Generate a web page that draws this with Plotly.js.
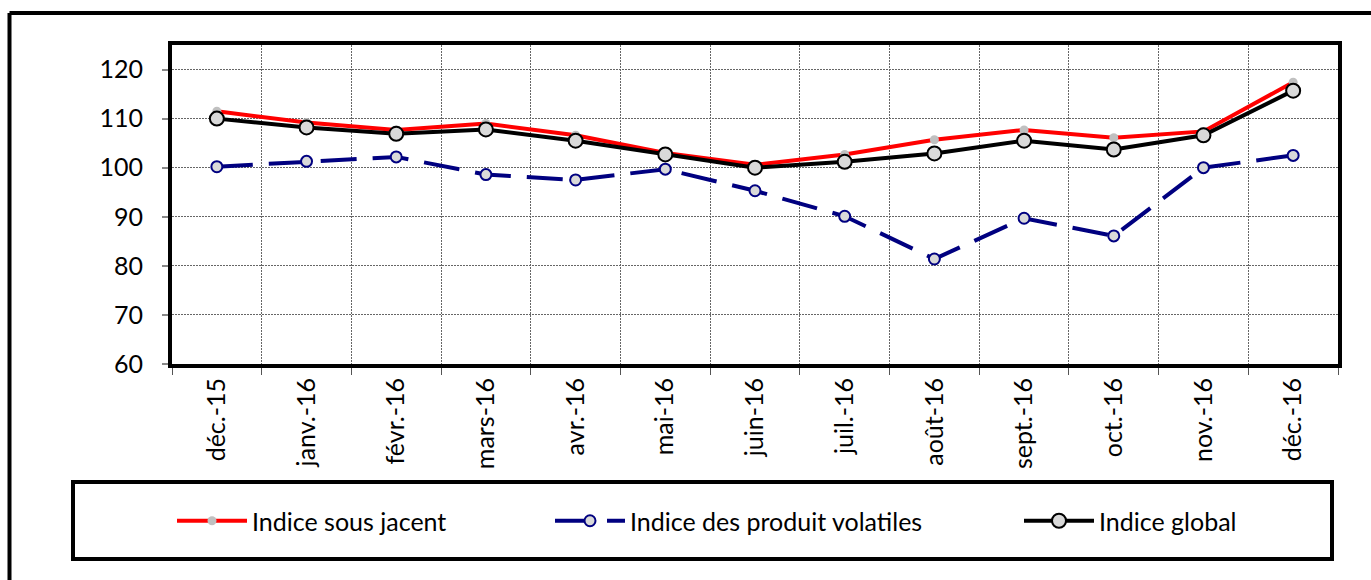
<!DOCTYPE html>
<html>
<head>
<meta charset="utf-8">
<script src="https://cdn.plot.ly/plotly-3.0.1.min.js"></script>
<style>
  html, body { margin: 0; padding: 0; background: #fff; }
  #chart { width: 1371px; height: 580px; }
</style>
</head>
<body>
<div id="chart"></div>
<script>
const months = ["déc.-15", "janv.-16", "févr.-16", "mars-16", "avr.-16", "mai-16", "juin-16",
                "juil.-16", "août-16", "sept.-16", "oct.-16", "nov.-16", "déc.-16"];
const sousJacent = [111.5, 109.2, 107.7, 109.0, 106.6, 103.0, 100.6, 102.7, 105.7, 107.7, 106.1, 107.4, 117.4];
const volatiles  = [100.2, 101.3, 102.2, 98.6, 97.5, 99.7, 95.3, 90.1, 81.4, 89.7, 86.1, 100.0, 102.5];
const global     = [110.0, 108.2, 106.9, 107.8, 105.5, 102.7, 100.0, 101.2, 102.9, 105.5, 103.7, 106.6, 115.7];
const yTicks = [60, 70, 80, 90, 100, 110, 120];

const FONT = "Lato, 'Liberation Sans', sans-serif";
const FS = 25;

// pixel helpers for paper coordinates
const W = 1371, H = 580;
const L = 172, R = 33, T = 45, B = 216;
const pw = W - L - R, ph = H - T - B;
const px = x => (x - L) / pw;
const py = y => (H - B - y) / ph;

const traces = [
  {
    x: months, y: sousJacent, name: "Indice sous jacent", type: "scatter", mode: "lines+markers",
    line: { color: "#ff0000", width: 4 },
    marker: { symbol: "circle", size: 9, color: "#c0c0c0", line: { width: 0 } },
    legend: "legend"
  },
  {
    x: months, y: volatiles, name: "Indice des produit volatiles", type: "scatter", mode: "lines+markers",
    line: { color: "#000080", width: 4, dash: "36px,16px" },
    marker: { symbol: "circle", size: 11, color: "#d9d9d9", line: { width: 2, color: "#000080" } },
    legend: "legend2"
  },
  {
    x: months, y: global, name: "Indice global", type: "scatter", mode: "lines+markers",
    line: { color: "#000000", width: 4 },
    marker: { symbol: "circle", size: 14, color: "#d9d9d9", line: { width: 2, color: "#000000" } },
    legend: "legend3"
  }
];

const legendBase = {
  orientation: "h", yanchor: "middle", xanchor: "left",
  y: py(521), bgcolor: "rgba(0,0,0,0)", borderwidth: 0,
  font: { family: FONT, size: FS, color: "#000" }, itemwidth: 70
};

const layout = {
  width: W, height: H,
  margin: { l: L, r: R, t: T, b: B, autoexpand: false },
  paper_bgcolor: "#fff", plot_bgcolor: "#fff",
  font: { family: FONT, size: FS, color: "#000" },
  xaxis: {
    type: "category", tickson: "boundaries", range: [-0.5, 12.5],
    showline: true, linecolor: "#000", linewidth: 4, mirror: true,
    showgrid: true, gridcolor: "#666", griddash: "2px,1px", gridwidth: 1,
    ticks: "outside", ticklen: 7, tickcolor: "#555", tickwidth: 1,
    tickangle: -90, tickfont: { family: FONT, size: FS, color: "#000" },
    zeroline: false, fixedrange: true
  },
  yaxis: {
    range: [60, 125], tickvals: yTicks, ticktext: yTicks.map(String),
    showline: true, linecolor: "#000", linewidth: 4, mirror: true,
    showgrid: true, gridcolor: "#666", griddash: "2px,1px", gridwidth: 1,
    ticks: "outside", ticklen: 6, tickcolor: "#888", tickwidth: 2,
    ticklabelstandoff: 14,
    tickfont: { family: FONT, size: FS, color: "#000" },
    zeroline: false, fixedrange: true
  },
  showlegend: true,
  legend:  Object.assign({}, legendBase, { x: px(172) }),
  legend2: Object.assign({}, legendBase, { x: px(550) }),
  legend3: Object.assign({}, legendBase, { x: px(1019) }),
  shapes: [
    // legend frame
    { type: "rect", xref: "paper", yref: "paper", x0: px(73), x1: px(1332), y0: py(559), y1: py(482),
      line: { color: "#000", width: 4 }, fillcolor: "rgba(0,0,0,0)" },
    // outer chart frame (top and left edges visible)
    { type: "line", xref: "paper", yref: "paper", x0: px(9.5), x1: px(1380), y0: py(13), y1: py(13),
      line: { color: "#000", width: 4 } },
    { type: "line", xref: "paper", yref: "paper", x0: px(9.5), x1: px(9.5), y0: py(13), y1: py(590),
      line: { color: "#000", width: 4 } }
  ]
};

Plotly.newPlot("chart", traces, layout, { displayModeBar: false, staticPlot: true });
</script>
</body>
</html>
